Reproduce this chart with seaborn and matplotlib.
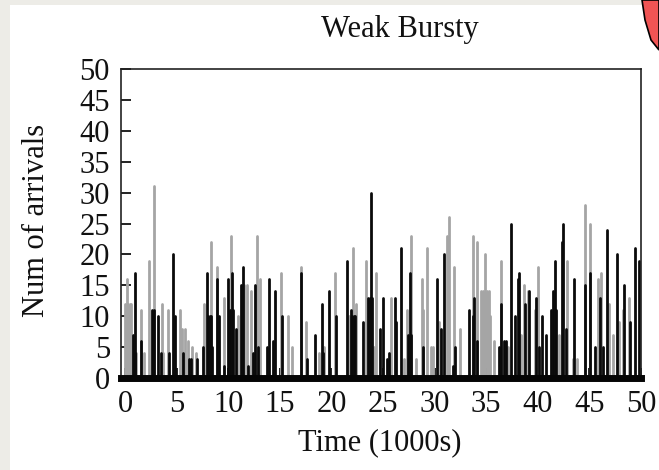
import numpy as np
import pandas as pd
import matplotlib
matplotlib.use("Agg")
import matplotlib.pyplot as plt
import matplotlib.patches as mpatches
import seaborn as sns

# ---- data ----
gray_time = [0.0, 0.15, 0.2, 0.3, 0.45, 0.6, 1.1, 1.5, 1.85, 2.3, 2.8, 3.6, 3.7, 4.15, 5.3, 5.5,
             5.8, 6.1, 6.45, 6.9, 7.65, 8.35, 8.9, 9.6, 10.25, 10.9, 11.3, 11.5, 11.8, 12.2,
             12.75, 13.1, 15.1, 15.75, 16.15, 17.0, 17.5, 18.75, 19.25, 20.3, 21.65, 22.1,
             22.4, 23.35, 24.1, 24.3, 25.75, 27.0, 27.35, 27.75, 28.15, 28.75, 28.9, 29.25,
             29.6, 29.8, 30.45, 30.55, 31.15, 31.4, 31.9, 32.5, 33.75, 34.15, 34.5, 34.7,
             34.9, 35.1, 35.3, 35.4, 35.8, 36.45, 37.15, 38.35, 38.7, 39.0, 39.75, 40.0,
             42.05, 42.85, 43.4, 43.8, 44.55, 45.05, 45.8, 46.15, 46.9, 47.3, 47.9, 48.25,
             48.85]
gray_count = [12, 12, 16, 12, 12, 12, 4, 11, 4, 19, 31, 12, 4, 11, 11, 8,
              8, 6, 5, 4, 12, 22, 18, 13, 23, 10, 15, 15, 15, 14,
              23, 16, 17, 10, 5, 18, 9, 4, 5, 17, 10, 21,
              12, 19, 5, 17, 13, 3, 11, 23, 3, 16, 11, 21,
              5, 5, 9, 8, 23, 26, 18, 8, 23, 22, 14, 14,
              20, 14, 14, 10, 6, 19, 5, 7, 15, 14, 11, 18,
              7, 19, 3, 3, 28, 25, 16, 17, 12, 7, 9, 11,
              13]

black_time = [0.8, 0.95, 1.0, 1.5, 2.6, 2.75, 3.15, 3.5, 4.3, 4.65, 4.8, 5.6, 6.2, 6.35, 6.95,
              7.55, 7.9, 8.05, 8.2, 8.35, 8.45, 8.9, 9.05, 9.55, 10.0, 10.2, 10.4, 10.5, 10.75,
              11.25, 11.4, 11.9, 12.35, 12.6, 12.9, 13.75, 13.95, 14.35, 14.5, 15.25, 17.05,
              17.65, 18.4, 19.05, 19.15, 19.75, 20.4, 21.5, 21.85, 22.0, 22.15, 22.3, 23.1,
              23.5, 23.7, 23.85, 23.95, 24.75, 24.95, 25.4, 25.55, 26.15, 26.3, 26.7, 27.45,
              27.6, 27.7, 28.9, 30.25, 30.6, 30.9, 31.8, 31.95, 33.3, 33.7, 33.85, 34.15,
              36.25, 36.45, 36.75, 36.95, 37.4, 37.8, 38.05, 38.2, 38.8, 39.15, 39.85, 40.1,
              40.4, 40.8, 41.3, 41.5, 41.65, 41.8, 42.3, 42.45, 42.75, 43.55, 44.55, 45.1,
              45.5, 46.0, 46.3, 46.7, 47.65, 48.4, 48.9, 49.4, 49.8]
black_count = [7, 17, 4, 6, 11, 11, 10, 4, 4, 20, 10, 4, 3, 3, 3,
               5, 17, 10, 10, 10, 5, 16, 10, 2, 16, 11, 17, 11, 8,
               15, 18, 2, 4, 15, 5, 5, 16, 6, 14, 10, 17,
               3, 7, 12, 4, 14, 10, 19, 11, 10, 10, 10, 9,
               13, 13, 30, 13, 8, 13, 3, 4, 13, 9, 21, 7,
               17, 7, 5, 16, 8, 20, 2, 5, 11, 10, 13, 6,
               5, 12, 6, 6, 25, 10, 16, 17, 12, 14, 13, 5,
               10, 7, 11, 14, 19, 11, 22, 25, 8, 16, 15, 17,
               5, 13, 5, 24, 20, 15, 9, 21, 19]

x_ticks = [0, 5, 10, 15, 20, 25, 30, 35, 40, 45, 50]
y_ticks = [0, 5, 10, 15, 20, 25, 30, 35, 40, 45, 50]


def impulses(times, counts):
    rows = []
    for i, (t, c) in enumerate(zip(times, counts)):
        rows.append({"t": t, "n": 0, "id": i})
        rows.append({"t": t, "n": c, "id": i})
    return pd.DataFrame(rows)


sns.set_theme(style="white")
plt.rcParams["font.family"] = ["Liberation Serif", "DejaVu Serif"]

W, H = 659, 470
fig = plt.figure(figsize=(W / 100, H / 100), dpi=100)
fig.patch.set_facecolor("#edece7")
# white page area of the screenshot
fig.add_artist(mpatches.Rectangle((10 / W, 0), 1, 1 - 5 / H, transform=fig.transFigure,
                                  facecolor="white", edgecolor="none", zorder=0))
# red shape in the top-right corner
fig.add_artist(mpatches.Polygon([(642 / W, 1), (659 / W, 1), (659 / W, 1 - 50 / H),
                                 (651 / W, 1 - 40 / H), (645 / W, 1 - 20 / H)],
                                closed=True, transform=fig.transFigure,
                                facecolor="#f05454", edgecolor="black", linewidth=1.2, zorder=1))

ax = fig.add_axes([121 / W, 1 - 378 / H, (641 - 121) / W, (378 - 69) / H])
ax.set_facecolor("white")

sns.lineplot(data=impulses(gray_time, gray_count), x="t", y="n", units="id",
             estimator=None, color="#a5a5a5", linewidth=2.0, ax=ax, legend=False)
sns.lineplot(data=impulses(black_time, black_count), x="t", y="n", units="id",
             estimator=None, color="#0a0a0a", linewidth=2.0, ax=ax, legend=False)

ax.set_xlim(-0.4, 50)
ax.set_ylim(0, 50)
ax.set_xticks(x_ticks)
ax.set_yticks(y_ticks)
ax.set_xticklabels([str(v) for v in x_ticks])
ax.set_yticklabels([str(v) for v in y_ticks])
ax.tick_params(axis="both", direction="in", length=7.5, width=1.3, color="#111111",
               labelsize=22, labelcolor="#111111", pad=8)
ax.tick_params(axis="x", pad=9)
ax.tick_params(top=False, right=False, left=True, bottom=True)
for s in ["top", "right", "left"]:
    ax.spines[s].set_visible(True)
    ax.spines[s].set_color("#222222")
    ax.spines[s].set_linewidth(1.2)
ax.spines["bottom"].set_color("#050505")
ax.spines["bottom"].set_linewidth(5.0)

ax.set_xlabel("")
ax.set_ylabel("")
fig.text(380 / W, 1 - 443 / H, "Time (1000s)", ha="center", va="center",
         fontsize=22, color="#111111")
fig.text(37 / W, 1 - 220 / H, "Num of arrivals", ha="center", va="center",
         rotation=90, fontsize=22, color="#111111")
fig.text(400 / W, 1 - 30 / H, "Weak Bursty", ha="center", va="center",
         fontsize=22, color="#111111")

fig.savefig("out.png", dpi=100, facecolor=fig.get_facecolor())
